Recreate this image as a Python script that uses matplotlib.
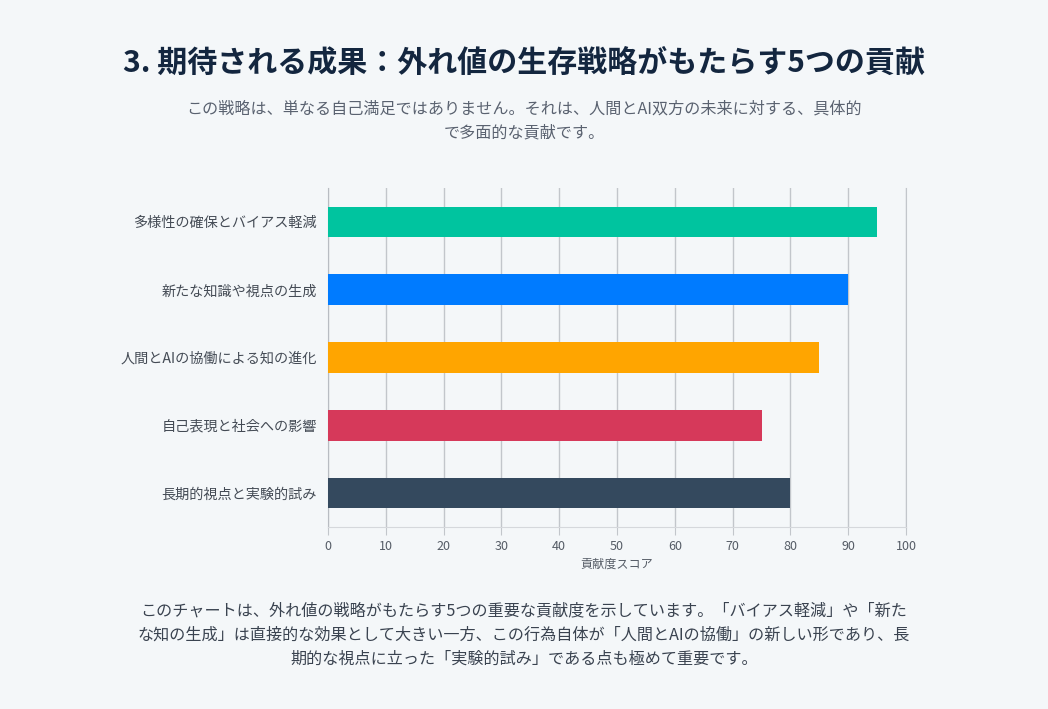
import matplotlib.pyplot as plt

plt.rcParams['font.family'] = ['Noto Sans CJK JP', 'DejaVu Sans']

# data
categories = ['多様性の確保とバイアス軽減', '新たな知識や視点の生成', '人間とAIの協働による知の進化',
              '自己表現と社会への影響', '長期的視点と実験的試み']
scores = [95, 90, 85, 75, 80]
bar_colors = ['#00C49F', '#007BFF', '#FFA500', '#D6395A', '#34495E']
x_ticks = [0, 10, 20, 30, 40, 50, 60, 70, 80, 90, 100]

title = '3. 期待される成果：外れ値の生存戦略がもたらす5つの貢献'
subtitle = ['この戦略は、単なる自己満足ではありません。それは、人間とAI双方の未来に対する、具体的',
            'で多面的な貢献です。']
note = ['このチャートは、外れ値の戦略がもたらす5つの重要な貢献度を示しています。「バイアス軽減」や「新た',
        'な知の生成」は直接的な効果として大きい一方、この行為自体が「人間とAIの協働」の新しい形であり、長',
        '期的な視点に立った「実験的試み」である点も極めて重要です。']

bg = '#F4F7F9'
fig = plt.figure(figsize=(10.48, 7.09), dpi=100, facecolor=bg)

fig.text(0.5, 1 - 63 / 709, title, ha='center', va='center', fontsize=21.6,
         fontweight='bold', color='#13263F')
fig.text(0.5, 1 - 109 / 709, subtitle[0], ha='center', va='center', fontsize=11.6, color='#5A6270')
fig.text(0.5, 1 - 133 / 709, subtitle[1], ha='center', va='center', fontsize=11.6, color='#5A6270')
for i, line in enumerate(note):
    fig.text(0.5, 1 - (611 + i * 24) / 709, line, ha='center', va='center',
             fontsize=11.6, color='#3A4350')

ax = fig.add_axes([328 / 1048, 1 - 527 / 709, 578 / 1048, 339 / 709])
ax.set_facecolor(bg)
ypos = list(range(len(categories)))
ax.barh(ypos, scores, height=0.45, color=bar_colors, zorder=3)
ax.set_xlim(0, 100)
ax.set_ylim(len(categories) - 0.5, -0.5)
ax.set_yticks(ypos)
ax.set_yticklabels(categories, fontsize=10.2, color='#444B55')
ax.set_xticks(x_ticks)
ax.set_xticklabels([str(t) for t in x_ticks], fontsize=9, color='#555C66')
ax.set_xlabel('貢献度スコア', fontsize=8.7, color='#555C66', labelpad=4)
ax.grid(axis='x', color='#C2C6CB', linewidth=1.0, zorder=0)
ax.tick_params(axis='x', length=6, color='#C2C6CB', pad=3)
ax.tick_params(axis='y', length=0, pad=8)
ax.spines['top'].set_visible(False)
ax.spines['right'].set_visible(True)
ax.spines['right'].set_color('#C2C6CB')
ax.spines['left'].set_color('#B8BCC2')
ax.spines['bottom'].set_color('#D5D8DC')

fig.savefig('out.png', dpi=100, facecolor=bg)
